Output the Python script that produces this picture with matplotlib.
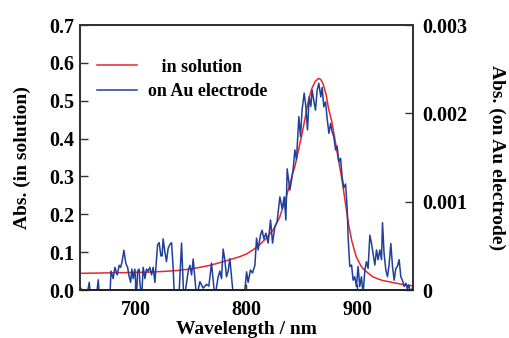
import numpy as np
import matplotlib
matplotlib.use("Agg")
import matplotlib.pyplot as plt

# ---------------------------------------------------------------------------
# data
# ---------------------------------------------------------------------------

# in solution (left axis)
sol_wl = [650, 670, 690, 710, 725, 740, 755, 767, 777, 785, 794, 800, 806,
          812, 818, 824, 830, 836, 841, 844, 847, 850, 853, 856, 859, 862,
          865, 867, 869, 872, 874, 877, 880, 882, 886, 889, 892, 895, 899,
          903, 905, 910, 914, 918, 923, 930, 935, 942, 950]
sol_abs = [0.044, 0.045, 0.046, 0.047, 0.049, 0.052, 0.058, 0.065, 0.073,
           0.080, 0.088, 0.095, 0.106, 0.120, 0.137, 0.158, 0.192, 0.246,
           0.300, 0.330, 0.370, 0.410, 0.455, 0.502, 0.532, 0.551, 0.559,
           0.556, 0.546, 0.515, 0.480, 0.445, 0.395, 0.360, 0.295, 0.235,
           0.175, 0.130, 0.088, 0.065, 0.057, 0.044, 0.035, 0.030, 0.025,
           0.021, 0.018, 0.014, 0.011]

# on Au electrode (right axis, in 1e-3 abs units)
au_wl = [650.0, 651.0, 655.4, 658.4, 660.0, 664.4, 666.5, 668.0, 673.4,
         677.0, 678.0, 680.0, 681.5, 683.6, 685.4, 686.7, 688.0, 689.6,
         691.4, 693.0, 694.1, 695.7, 696.8, 698.0, 699.5, 701.0, 702.0,
         703.4, 704.0, 705.6, 707.0, 708.6, 710.0, 711.5, 713.0, 714.6,
         716.0, 717.6, 718.5, 720.0, 721.4, 723.0, 724.1, 725.0, 726.6,
         728.0, 729.5, 731.0, 732.6, 734.0, 735.6, 739.0, 741.6, 743.7,
         747.6, 749.1, 750.6, 752.1, 753.6, 755.1, 758.1, 761.1, 764.1,
         766.2, 768.6, 771.6, 774.6, 776.1, 777.6, 779.1, 780.6, 782.1,
         783.6, 785.1, 786.6, 788.7, 794.1, 796.8, 798.6, 800.2, 801.6,
         803.7, 805.6, 807.7, 809.2, 810.6, 812.7, 814.2, 815.8, 817.6,
         819.6, 821.8, 823.6, 825.7, 827.7, 830.2, 832.3, 834.1, 835.6,
         836.8, 839.2, 840.7, 842.2, 843.7, 845.2, 847.3, 848.8, 850.2,
         852.1, 853.6, 855.1, 856.6, 858.1, 859.3, 860.8, 862.3, 863.8,
         865.3, 867.1, 868.3, 869.8, 871.4, 872.8, 874.4, 875.9, 877.3,
         878.8, 880.4, 881.8, 883.3, 884.9, 886.3, 887.8, 889.4, 890.8,
         891.7, 893.2, 894.8, 896.2, 897.7, 899.2, 900.7, 902.2, 903.7,
         905.2, 906.8, 908.2, 909.7, 911.3, 912.8, 914.2, 915.8, 917.3,
         918.7, 920.3, 921.8, 922.7, 924.1, 925.7, 927.2, 928.6, 930.2,
         931.7, 933.2, 934.7, 936.1, 937.7, 939.2, 940.6, 942.2, 943.7,
         945.1, 946.4, 947.9, 949.5]
au_mabs = [-0.086, 0.021, -0.129, 0.086, -0.129, -0.129, 0.116, -0.129,
           -0.129, -0.086, 0.214, 0.129, 0.257, 0.171, 0.279, 0.257, 0.321,
           0.450, 0.300, 0.257, 0.171, 0.086, 0.236, 0.129, 0.236, -0.086,
           0.214, 0.236, 0.086, -0.086, 0.257, 0.129, 0.236, 0.214, 0.257,
           0.171, 0.257, 0.086, 0.257, 0.514, 0.536, 0.386, 0.386, 0.579,
           0.429, 0.321, 0.471, 0.514, 0.536, 0.257, -0.214, -0.129, 0.531,
           -0.129, 0.214, 0.279, 0.171, 0.351, 0.129, -0.086, 0.094, 0.021,
           0.064, 0.043, 0.304, -0.086, 0.150, 0.214, 0.129, 0.463, 0.343,
           0.150, 0.214, 0.356, 0.150, -0.129, -0.129, -0.086, 0.000, 0.206,
           0.086, 0.227, 0.193, 0.279, 0.587, 0.454, 0.621, 0.677, 0.579,
           0.643, 0.531, 0.793, 0.531, 0.716, 0.771, 1.054, 0.921, 1.054,
           0.793, 1.371, 1.131, 1.243, 1.371, 1.586, 1.479, 1.963, 1.736,
           2.036, 2.229, 2.079, 1.813, 2.186, 2.079, 2.263, 2.143, 2.036,
           2.263, 2.340, 2.186, 2.293, 2.074, 2.130, 1.941, 1.774, 1.886,
           1.791, 1.736, 1.586, 1.629, 1.453, 1.491, 1.281, 1.157, 1.200,
           0.943, 0.600, 0.266, 0.283, 0.111, 0.150, 0.039, 0.266, 0.039,
           0.150, -0.043, 0.227, 0.321, 0.244, 0.621, 0.527, 0.416, 0.283,
           0.454, 0.343, 0.454, 0.343, 0.763, 0.416, 0.227, 0.150, 0.283,
           0.527, 0.266, 0.111, 0.244, 0.266, 0.343, 0.150, 0.111, 0.039,
           0.077, 0.017, 0.056, -0.043, 0.021]

left_ticks = [0.0, 0.1, 0.2, 0.3, 0.4, 0.5, 0.6, 0.7]
right_ticks = [0, 0.001, 0.002, 0.003]
right_labels = ["0", "0.001", "0.002", "0.003"]
x_ticks = [700, 800, 900]

# ---------------------------------------------------------------------------
# plot
# ---------------------------------------------------------------------------

plt.rcParams['font.family'] = ['Liberation Serif', 'DejaVu Serif']
plt.rcParams['font.weight'] = 'bold'

fig = plt.figure(figsize=(5.09, 3.38), dpi=100)
ax1 = fig.add_axes([0.157, 0.142, 0.654, 0.784])
ax2 = ax1.twinx()

red = '#e8262a'
blue = '#1f3f9a'
axis_col = '#333333'

l1, = ax1.plot(sol_wl, sol_abs, color=red, lw=1.1, label='   in solution')
l2, = ax2.plot(au_wl, np.array(au_mabs) * 1e-3, color=blue, lw=1.1,
               label='on Au electrode')

ax1.set_xlim(650, 950)
ax1.set_ylim(0, 0.7)
ax2.set_ylim(0, 0.003)

ax1.set_xticks(x_ticks)
ax1.set_yticks(left_ticks)
ax1.set_yticklabels([f'{v:.1f}' for v in left_ticks])
ax2.set_yticks(right_ticks)
ax2.set_yticklabels(right_labels)

for ax in (ax1, ax2):
    for s in ax.spines.values():
        s.set_color(axis_col)
        s.set_linewidth(1.4)
    ax.spines['bottom'].set_color('#222222')
ax1.tick_params(axis='y', direction='in', length=6, width=1, color=axis_col,
                labelsize=14.5, pad=4)
ax1.tick_params(axis='x', direction='in', length=4, width=1, color=axis_col,
                labelsize=14.5, pad=7)
ax2.tick_params(axis='y', direction='in', length=6, width=1, color=axis_col,
                labelsize=14.5, pad=7)

ax1.set_xlabel('Wavelength / nm', fontsize=14, fontweight='bold', labelpad=1)
ax1.set_ylabel('Abs. (in solution)', fontsize=14, fontweight='bold',
               labelpad=13)
ax2.set_ylabel('Abs. (on Au electrode)', fontsize=14, fontweight='bold',
               rotation=270, labelpad=27)

ax2.legend(handles=[l1, l2], loc='upper left', bbox_to_anchor=(0.03, 0.90),
           frameon=False, fontsize=13, handlelength=2.2, handletextpad=0.6,
           labelspacing=0.4, borderaxespad=0)

fig.savefig('out.png', dpi=100)
